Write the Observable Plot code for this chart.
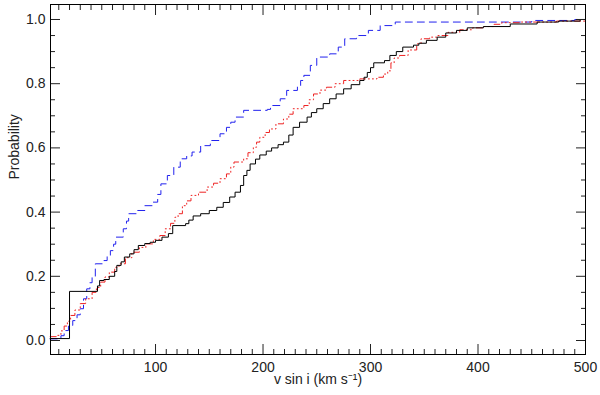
<!DOCTYPE html>
<html>
<head>
<meta charset="utf-8">
<script src="https://cdn.jsdelivr.net/npm/d3@7"></script>
<script src="https://cdn.jsdelivr.net/npm/@observablehq/plot@0.6"></script>
<style>
  html, body { margin: 0; padding: 0; background: white; }
</style>
</head>
<body>
<div id="chart"></div>
<script>
// Tick labels
const xMajorTicks = [100, 200, 300, 400, 500];
const yMajorTicks = [0.0, 0.2, 0.4, 0.6, 0.8, 1.0];

// Black solid CDF (step points: x where jump happens, y after jump)
const blackX = [2, 20, 46, 48, 52, 57, 62, 64, 68, 71, 76, 80, 84, 90, 95, 100, 106, 112, 116, 128, 131, 135, 142, 150, 157, 163, 169, 174, 179, 182, 185, 188, 193, 197, 203, 208, 214, 219, 224, 228, 234, 241, 245, 250, 256, 262, 268, 275, 282, 290, 294, 297, 300, 303, 313, 318, 324, 330, 340, 345, 352, 362, 370, 380, 390, 405, 430, 455, 475, 495, 500];
const blackY = [0.006, 0.153, 0.17, 0.187, 0.19, 0.2, 0.215, 0.234, 0.245, 0.26, 0.27, 0.283, 0.296, 0.302, 0.306, 0.312, 0.322, 0.333, 0.358, 0.364, 0.375, 0.388, 0.395, 0.405, 0.415, 0.43, 0.447, 0.462, 0.483, 0.514, 0.53, 0.55, 0.565, 0.578, 0.59, 0.6, 0.61, 0.618, 0.64, 0.664, 0.68, 0.696, 0.71, 0.722, 0.738, 0.753, 0.768, 0.784, 0.797, 0.81, 0.82, 0.835, 0.85, 0.865, 0.872, 0.888, 0.9, 0.914, 0.92, 0.926, 0.935, 0.945, 0.958, 0.966, 0.974, 0.978, 0.986, 0.992, 0.995, 1.0, 1.0];

// Red dash-dot CDF
const redX = [2, 8, 12, 15, 18, 21, 25, 30, 35, 41, 45, 49, 53, 57, 62, 66, 72, 78, 85, 91, 98, 104, 109, 114, 118, 121, 125, 129, 133, 140, 148, 154, 160, 166, 170, 173, 182, 186, 191, 194, 197, 202, 206, 212, 219, 224, 228, 238, 243, 247, 253, 259, 267, 275, 290, 306, 312, 316, 319, 322, 327, 335, 343, 347, 355, 362, 372, 383, 395, 405, 415, 422, 440, 473, 500];
const redY = [0.012, 0.016, 0.03, 0.045, 0.06, 0.078, 0.095, 0.115, 0.13, 0.15, 0.165, 0.182, 0.198, 0.213, 0.228, 0.239, 0.258, 0.275, 0.29, 0.301, 0.315, 0.327, 0.348, 0.365, 0.384, 0.395, 0.42, 0.435, 0.452, 0.462, 0.478, 0.49, 0.504, 0.519, 0.54, 0.556, 0.566, 0.585, 0.602, 0.618, 0.633, 0.648, 0.659, 0.675, 0.69, 0.705, 0.722, 0.732, 0.75, 0.768, 0.78, 0.789, 0.8, 0.81, 0.815, 0.82, 0.83, 0.84, 0.865, 0.88, 0.888, 0.905, 0.924, 0.94, 0.945, 0.95, 0.96, 0.968, 0.974, 0.978, 0.985, 0.99, 0.992, 0.995, 0.995];

// Blue dashed CDF
const blueX = [2, 12, 15, 19, 23, 27, 30, 33, 36, 39, 41, 44, 52, 55, 58, 61, 63, 70, 73, 75, 83, 90, 97, 102, 105, 111, 117, 123, 129, 134, 142, 151, 160, 166, 170, 174, 182, 204, 207, 216, 222, 232, 235, 238, 244, 250, 262, 270, 276, 287, 298, 309, 323, 450, 490, 500];
const blueY = [0.005, 0.015, 0.031, 0.047, 0.062, 0.08, 0.099, 0.13, 0.161, 0.18, 0.197, 0.239, 0.249, 0.265, 0.28, 0.3, 0.322, 0.348, 0.372, 0.395, 0.405, 0.42, 0.431, 0.455, 0.488, 0.514, 0.54, 0.566, 0.575, 0.587, 0.607, 0.623, 0.644, 0.664, 0.68, 0.696, 0.717, 0.72, 0.732, 0.753, 0.779, 0.794, 0.81, 0.826, 0.857, 0.883, 0.893, 0.914, 0.94, 0.95, 0.966, 0.981, 0.992, 0.997, 1.0, 1.0];

const toPts = (xs, ys) => xs.map((x, i) => ({x, y: ys[i]}));
const black = toPts(blackX, blackY);
const red = toPts(redX, redY);
const blue = toPts(blueX, blueY);

const xMinor = d3.range(10, 500, 10).filter(v => v % 100 !== 0);
const yMinor = d3.range(1, 20).map(i => i * 0.05).filter((v, i) => (i + 1) % 4 !== 0);
const blank = () => "";

const plot = Plot.plot({
  width: 600,
  height: 395,
  marginLeft: 50,
  marginRight: 15,
  marginTop: 4,
  marginBottom: 41,
  style: {fontFamily: "'Liberation Sans', Arial, sans-serif", fontSize: "14px", background: "white", color: "#222"},
  x: {domain: [2.3, 500], label: null},
  y: {domain: [-0.0436, 1.0467], label: null},
  marks: [
    Plot.line(blue, {x: "x", y: "y", curve: "step-after", stroke: "#2222ee", strokeWidth: 1, strokeDasharray: "7,5"}),
    Plot.line(red, {x: "x", y: "y", curve: "step-after", stroke: "#ee2222", strokeWidth: 1, strokeDasharray: "6,3,1,3,1,3,1,3"}),
    Plot.line(black, {x: "x", y: "y", curve: "step-after", stroke: "black", strokeWidth: 1}),
    Plot.axisX({anchor: "bottom", ticks: xMajorTicks, tickSize: -10, tickFormat: blank, label: null}),
    Plot.axisX({anchor: "bottom", ticks: xMinor, tickSize: -5, tickFormat: blank, label: null}),
    Plot.axisX({anchor: "top", ticks: xMajorTicks, tickSize: -10, tickFormat: blank, label: null}),
    Plot.axisX({anchor: "top", ticks: xMinor, tickSize: -5, tickFormat: blank, label: null}),
    Plot.axisY({anchor: "left", ticks: yMajorTicks, tickSize: -10, tickFormat: blank, label: null}),
    Plot.axisY({anchor: "left", ticks: yMinor, tickSize: -5, tickFormat: blank, label: null}),
    Plot.axisY({anchor: "right", ticks: yMajorTicks, tickSize: -10, tickFormat: blank, label: null}),
    Plot.axisY({anchor: "right", ticks: yMinor, tickSize: -5, tickFormat: blank, label: null}),
    Plot.axisX({anchor: "bottom", ticks: xMajorTicks, tickSize: 0, tickPadding: 8, tickFormat: d => String(d), label: null, fontSize: 14, fill: "#222"}),
    Plot.axisY({anchor: "left", ticks: yMajorTicks, tickSize: 0, tickPadding: 5, tickFormat: d3.format(".1f"), label: null, fontSize: 14, fill: "#222"}),
    Plot.text(["Probability"], {frameAnchor: "left", rotate: -90, dx: -36, fontSize: 14, fill: "#222"}),
    Plot.text(["v sin i (km s\u207B\u00B9)"], {frameAnchor: "bottom", dy: 29, fontSize: 14, fill: "#222", style: "letter-spacing: 1px"}),
    Plot.frame({stroke: "black", strokeWidth: 1})
  ]
});
document.getElementById("chart").appendChild(plot);
</script>
</body>
</html>
